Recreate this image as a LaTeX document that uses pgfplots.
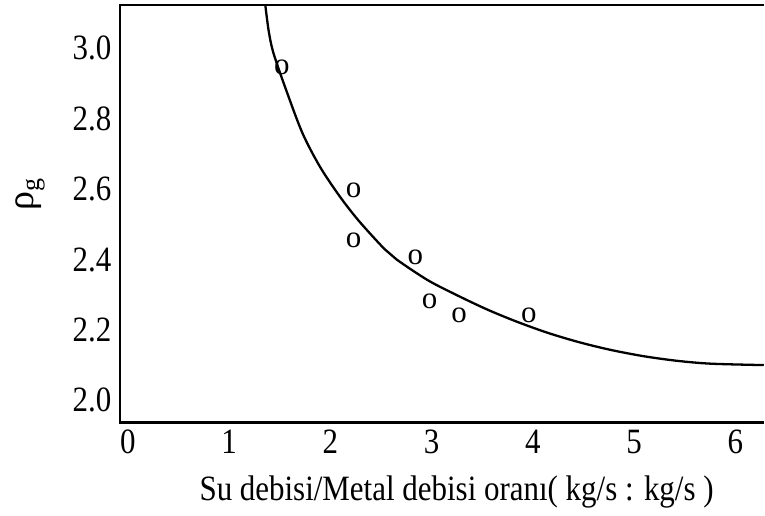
\documentclass[border=0pt]{standalone}
\usepackage{graphicx}
\usepackage{pgfplots}
\pgfplotsset{compat=1.18}
\usepackage{fontspec}
\setmainfont{Liberation Serif}

\pgfplotstableread{
x y
1.52 2.945
2.23 2.595
2.23 2.455
2.84 2.405
2.98 2.280
3.27 2.240
3.96 2.240
}\pointdata

\pgfplotstableread{
x y
1.350 3.140
1.390 3.050
1.439 2.985
1.561 2.883
1.724 2.759
1.898 2.663
2.093 2.579
2.280 2.510
2.533 2.430
2.654 2.400
2.963 2.341
3.261 2.297
3.548 2.258
3.835 2.224
4.143 2.192
4.457 2.165
4.771 2.143
5.100 2.125
5.430 2.112
5.760 2.104
6.280 2.100
}\curvedata

\begin{document}
\begin{tikzpicture}
\begin{axis}[
  scale only axis, width=645pt, height=418pt,
  at={(0,0)}, anchor=south west,
  xmin=-0.08, xmax=6.28, ymin=1.9375, ymax=3.123,
  xtick={0,1,2,3,4,5,6}, ytick={2,2.2,2.4,2.6,2.8,3},
  y tick label style={/pgf/number format/fixed, /pgf/number format/fixed zerofill, /pgf/number format/precision=1, xshift=-5pt},
  x tick label style={yshift=-4pt},
  /pgf/number format/assume math mode=true,
  xticklabel={\scalebox{1}[1.15]{\pgfmathprintnumber{\tick}}},
  yticklabel={\scalebox{1}[1.15]{\pgfmathprintnumber{\tick}}},
  major tick length=0pt,
  axis line style={draw=none},
  tick label style={font=\fontsize{31}{33}\selectfont},
  xlabel={\scalebox{1}[1.15]{Su debisi/Metal debisi oranı( kg/s : kg/s )}},
  xlabel style={at={(axis description cs:0.523,-0.1866)}, anchor=base, font=\fontsize{31}{34}\selectfont},
  ylabel={ρ\raisebox{-0.35ex}{\fontsize{26}{26}\selectfont g}},
  ylabel style={at={(axis description cs:-0.1395,0.545)}, anchor=center, font=\fontsize{38}{40}\selectfont},
  clip=true,
]
\addplot[smooth, black, line width=2.3pt, no markers] table[x=x, y=y] {\curvedata};
\addplot[only marks, mark=text, text mark={o}, text mark as node=true,
  text mark style={font=\fontsize{31}{31}\selectfont, inner sep=0pt, anchor=center}]
  table[x=x, y=y] {\pointdata};
\end{axis}
\draw[line width=2.5pt] (645pt,418pt) -- (0pt,418pt) -- (0pt,0pt) -- (645pt,0pt);
\path (-120pt,-93pt) rectangle (645pt,423pt);
\end{tikzpicture}
\end{document}
